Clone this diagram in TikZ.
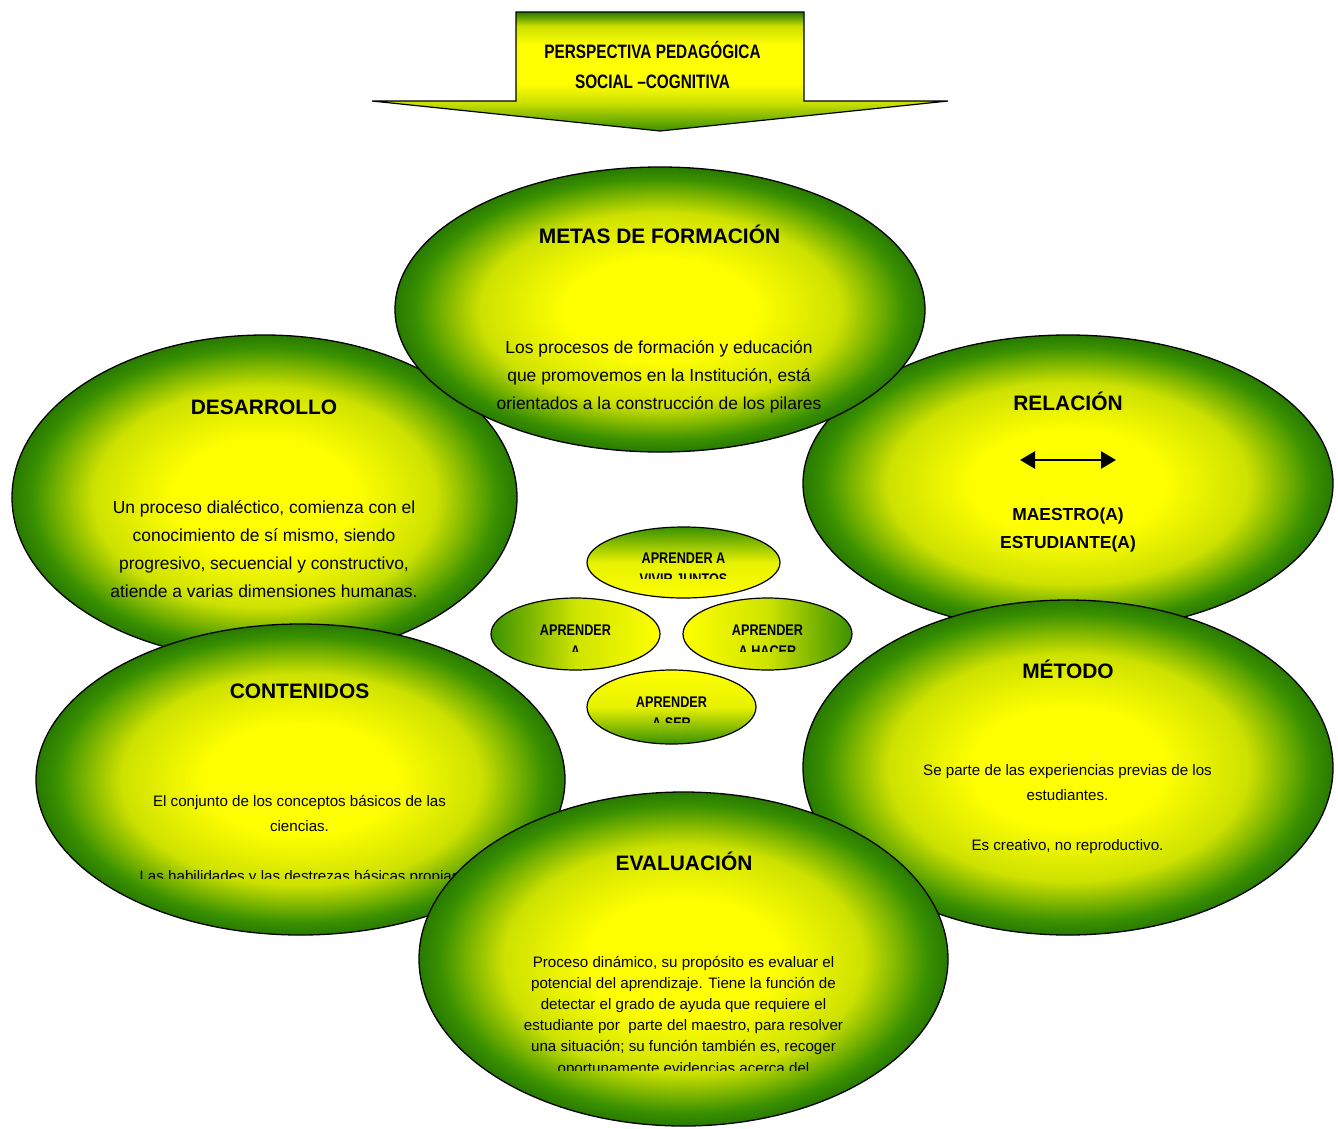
\documentclass[tikz,border=0pt]{standalone}
\usepackage{fontspec}
\setmainfont{Liberation Sans}
\newfontfamily\narrowfont[FakeStretch=0.79]{Liberation Sans}
\newfontfamily\smallnarrow[FakeStretch=0.82]{Liberation Sans}
\usetikzlibrary{shapes.geometric,arrows.meta}
\definecolor{yel}{RGB}{255,255,0}
\definecolor{grn}{RGB}{58,145,0}
\definecolor{dgrn}{RGB}{40,122,0}
\definecolor{ygrn}{RGB}{205,225,0}
\pgfdeclareradialshading{ballg}{\pgfpoint{0bp}{0bp}}{color(0bp)=(yel); color(9bp)=(yel); color(17bp)=(ygrn); color(23bp)=(grn); color(25bp)=(dgrn); color(50bp)=(dgrn)}
\pgfdeclareverticalshading{arrowsh}{100bp}{color(0bp)=(grn); color(25bp)=(grn); color(37bp)=(ygrn); color(45bp)=(yel); color(61bp)=(yel); color(69bp)=(ygrn); color(75bp)=(dgrn); color(100bp)=(dgrn)}
\begin{document}
\begin{tikzpicture}[x=1bp,y=-1bp,
  bigell/.style={ellipse, draw=black, line width=1.3bp, shading=ballg, inner sep=0pt},
  smallell/.style={ellipse, draw=black, line width=1.2bp, inner sep=0pt},
  head/.style={anchor=base, inner sep=0pt, font=\fontsize{21}{25}\selectfont\bfseries},
  body/.style={align=center, anchor=base, inner sep=0pt, font=\fontsize{17.5}{28}\selectfont},
  smallbody/.style={align=center, anchor=base, inner sep=0pt, font=\fontsize{15.2}{25}\selectfont},
  evalbody/.style={align=center, anchor=base, inner sep=0pt, font=\fontsize{15.2}{21.2}\selectfont},
  boldbody/.style={align=center, anchor=base, inner sep=0pt, font=\fontsize{17.5}{28}\selectfont\bfseries},
  smtxt/.style={align=center, anchor=base, inner sep=0pt, font=\smallnarrow\fontsize{15.5}{21}\selectfont\bfseries},
  titletxt/.style={align=center, anchor=base, inner sep=0pt, font=\narrowfont\fontsize{19.5}{30}\selectfont\bfseries}]
\useasboundingbox (0,0) rectangle (1338,1128);
\fill[white] (0,0) rectangle (1338,1128);

% title arrow
\path[draw=black, line width=1.2bp, shading=arrowsh]
  (516,12) -- (804,12) -- (804,101) -- (948,101) -- (660,131) -- (372,101) -- (516,101) -- cycle;
\node[titletxt] (title) at (652.5,88) {PERSPECTIVA PEDAGÓGICA\\SOCIAL –COGNITIVA};

% DESARROLLO
\node[bigell, minimum width=505bp, minimum height=325bp] (desE) at (264.5,497.5) {};
\node[head] (desH) at (264,414) {DESARROLLO};
\node[body] (desT) at (264,597) {Un proceso dialéctico, comienza con el\\conocimiento de sí mismo, siendo\\progresivo, secuencial y constructivo,\\atiende a varias dimensiones humanas.};

% RELACION
\node[bigell, minimum width=530bp, minimum height=297bp] (relE) at (1068,483.5) {};
\node[head] (relH) at (1068,410) {RELACIÓN};
\coordinate (ra) at (1020,460);
\coordinate (rb) at (1116,460);
\draw[line width=2.5bp, {Triangle[length=15bp,width=17bp]}-{Triangle[length=15bp,width=17bp]}] (ra) -- (rb);
\node[boldbody] (relT) at (1068,548) {MAESTRO(A)\\ESTUDIANTE(A)};

% METAS
\node[bigell, minimum width=530bp, minimum height=285bp] (metE) at (660,309.5) {};
\node[head] (metH) at (659.5,243) {METAS DE FORMACIÓN};
\begin{scope}
\clip (395,320) rectangle (925,423);
\node[body] (metT) at (659,437) {Los procesos de formación y educación\\que promovemos en la Institución, está\\orientados a la construcción de los pilares\\del saber: aprender a conocer, bilingüe, a};
\end{scope}

% CONTENIDOS
\node[bigell, minimum width=529bp, minimum height=311bp] (conE) at (300.5,779.5) {};
\node[head] (conH) at (299.5,698) {CONTENIDOS};
\begin{scope}
\clip (36,780) rectangle (565,878);
\node[smallbody] (conT) at (299.5,881) {El conjunto de los conceptos básicos de las\\ciencias.\\~\\Las habilidades y las destrezas básicas propias};
\end{scope}

% METODO
\node[bigell, minimum width=530bp, minimum height=335bp] (metoE) at (1068,767.5) {};
\node[head] (metoH) at (1068,678) {MÉTODO};
\node[smallbody] (metoT) at (1067.5,850) {Se parte de las experiencias previas de los\\estudiantes.\\~\\Es creativo, no reproductivo.};

% EVALUACION
\node[bigell, minimum width=529bp, minimum height=334bp] (evaE) at (683.5,959) {};
\node[head] (evaH) at (684,870) {EVALUACIÓN};
\begin{scope}
\clip (419,940) rectangle (948,1070);
\node[evalbody] (evaT) at (683.5,1073) {Proceso dinámico, su propósito es evaluar el\\potencial del aprendizaje. Tiene la función de\\detectar el grado de ayuda que requiere el\\estudiante por\ \ parte del maestro, para resolver\\una situación; su función también es, recoger\\oportunamente evidencias acerca del};
\end{scope}

% small ellipses
\node[smallell, minimum width=193bp, minimum height=71bp, top color=grn, bottom color=yel, middle color=yel!88!grn] (viv) at (683.5,562.5) {};
\begin{scope}
\clip (587,540) rectangle (780,578);
\node[smtxt] (vivT) at (683.5,584) {APRENDER A\\VIVIR JUNTOS};
\end{scope}

\node[smallell, minimum width=169bp, minimum height=72bp, left color=grn, right color=yel, middle color=yel!75!grn] (con) at (575.5,634) {};
\begin{scope}
\clip (491,610) rectangle (660,651);
\node[smtxt] (conoT) at (575.5,677) {APRENDER\\A\\CONOCER};
\end{scope}

\node[smallell, minimum width=169bp, minimum height=72bp, left color=yel, right color=grn, middle color=yel!75!grn] (hac) at (767.5,634) {};
\begin{scope}
\clip (683,610) rectangle (852,651);
\node[smtxt] (hacT) at (767.5,656) {APRENDER\\A HACER};
\end{scope}

\node[smallell, minimum width=169bp, minimum height=74bp, top color=yel, bottom color=grn, middle color=yel!88!grn] (ser) at (671.5,707) {};
\begin{scope}
\clip (587,685) rectangle (756,722);
\node[smtxt] (serT) at (671.5,728) {APRENDER\\A SER};
\end{scope}
\end{tikzpicture}
\end{document}
